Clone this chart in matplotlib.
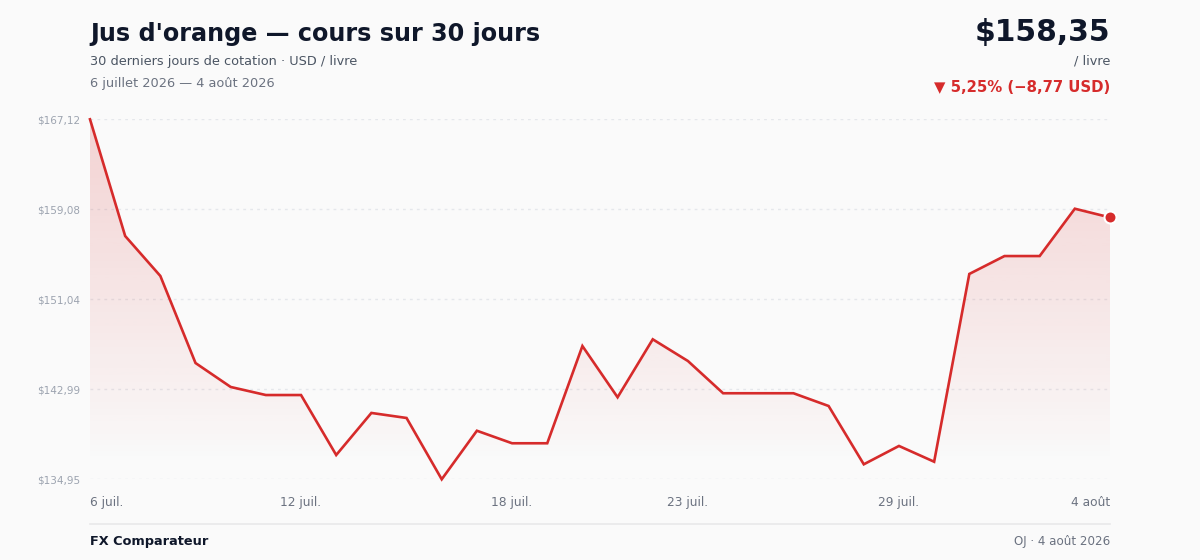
import matplotlib
matplotlib.use("Agg")
import matplotlib.pyplot as plt
import numpy as np
from matplotlib.colors import to_rgb

# ---- data ----
day_index = list(range(30))
prices = [167.12, 156.69, 153.12, 145.34, 143.20, 142.48, 142.48, 137.12, 140.88, 140.43,
          134.95, 139.29, 138.17, 138.17, 146.86, 142.28, 147.46, 145.52, 142.64, 142.64,
          142.64, 141.50, 136.29, 137.93, 136.52, 153.30, 154.90, 154.90, 159.13, 158.35]
xtick_pos = [0, 6, 12, 17, 23, 29]
xtick_labels = ["6 juil.", "12 juil.", "18 juil.", "23 juil.", "29 juil.", "4 août"]
ytick_vals = [134.95, 142.99, 151.04, 159.08, 167.12]
ytick_labels = ["$134,95", "$142,99", "$151,04", "$159,08", "$167,12"]

title = "Jus d'orange — cours sur 30 jours"
subtitle = "30 derniers jours de cotation · USD / livre"
date_range = "6 juillet 2026 — 4 août 2026"
price_text = "$158,35"
unit_text = "/ livre"
change_text = "▼ 5,25% (−8,77 USD)"
footer_left = "FX Comparateur"
footer_right = "OJ · 4 août 2026"

# ---- style ----
BG = "#fafafa"
RED = "#d62b2b"
DARK = "#0f172a"
GRAY = "#4b5563"
GRAY2 = "#6b7280"
LIGHT = "#9ca3af"
GRID = "#e5e7eb"

plt.rcParams['font.family'] = ['DejaVu Sans']

W, H = 1200, 560
fig = plt.figure(figsize=(W / 100, H / 100), dpi=100, facecolor=BG)

def fy(y):
    return 1 - y / H

def fx(x):
    return x / W

ax_left, ax_right, ax_top, ax_bot = 90, 1110, 119.3, 479.3
ax = fig.add_axes([fx(ax_left), fy(ax_bot), (ax_right - ax_left) / W, (ax_bot - ax_top) / H])
ax.set_facecolor(BG)

ymin, ymax = min(ytick_vals), max(ytick_vals)
ax.set_xlim(0, len(prices) - 1)
ax.set_ylim(ymin, ymax)

# gradient fill
r, g, b = to_rgb(RED)
n = 256
vals = np.linspace(ymax, ymin, n)
alpha = 0.19 * np.clip((vals - 136.5) / (ymax - 136.5), 0, 1) ** 0.9
img = np.zeros((n, 1, 4))
img[:, 0, 0] = r
img[:, 0, 1] = g
img[:, 0, 2] = b
img[:, 0, 3] = alpha
poly = ax.fill_between(day_index, prices, ymin, color="none", lw=0)
im = ax.imshow(img, extent=[0, len(prices) - 1, ymin, ymax], aspect="auto", zorder=1,
               origin="upper")
im.set_clip_path(poly.get_paths()[0], transform=ax.transData)

# grid
for v in ytick_vals:
    ax.axhline(v, color=GRID, lw=1.0, ls=(0, (2, 3)), zorder=0.5)

ax.plot(day_index, prices, color=RED, lw=1.9, zorder=3, clip_on=False, solid_joinstyle="miter")
ax.scatter([day_index[-1]], [prices[-1]], s=75, color=RED, edgecolor="white", linewidth=1.5,
           zorder=4, clip_on=False)

for s in ax.spines.values():
    s.set_visible(False)

ax.set_yticks(ytick_vals)
ax.set_yticklabels(ytick_labels)
ax.tick_params(axis="y", length=0, pad=7, labelsize=7.5, labelcolor=LIGHT)
ax.set_xticks(xtick_pos)
ax.set_xticklabels(xtick_labels)
ax.tick_params(axis="x", length=0, pad=12, labelsize=8.8, labelcolor=GRAY2)
xl = ax.get_xticklabels()
xl[0].set_horizontalalignment("left")
xl[-1].set_horizontalalignment("right")

# header texts
fig.text(fx(90), fy(34), title, fontsize=17.2, fontweight="bold", color=DARK, va="center", ha="left")
fig.text(fx(90), fy(61), subtitle, fontsize=9.25, color=GRAY, va="center", ha="left")
fig.text(fx(90), fy(83), date_range, fontsize=9.3, color=GRAY2, va="center", ha="left")

fig.text(fx(1110), fy(32), price_text, fontsize=21.4, fontweight="bold", color=DARK, va="center", ha="right")
fig.text(fx(1110), fy(61), unit_text, fontsize=9.3, color=GRAY, va="center", ha="right")
fig.text(fx(1110), fy(87), change_text, fontsize=10.75, fontweight="bold", color=RED, va="center", ha="right")

# footer
fig.add_artist(plt.Line2D([fx(90), fx(1110)], [fy(523.5), fy(523.5)], color="#e8e8ea", lw=1.2))
fig.text(fx(90), fy(541), footer_left, fontsize=9.25, fontweight="bold", color=DARK, va="center", ha="left")
fig.text(fx(1110), fy(541), footer_right, fontsize=8.6, color=GRAY2, va="center", ha="right")

fig.savefig("out.png", dpi=100, facecolor=BG)
